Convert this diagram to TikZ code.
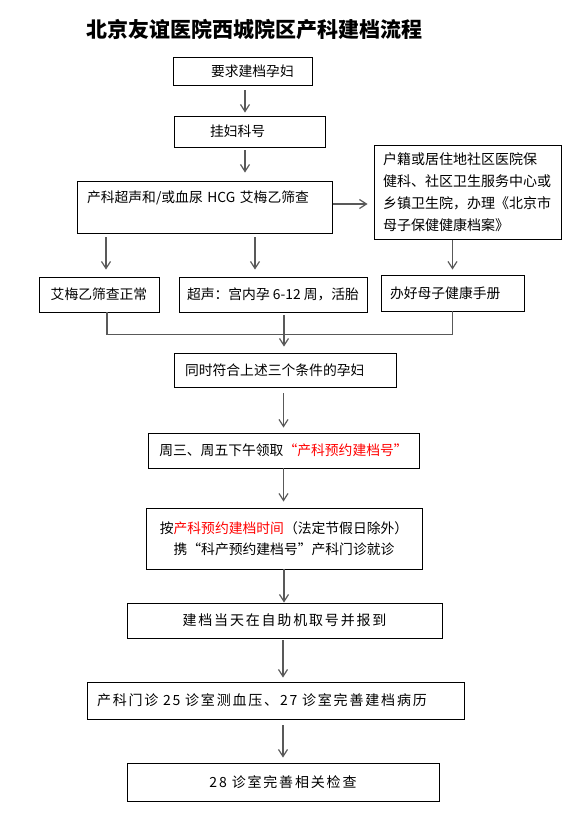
\documentclass[tikz,border=0pt]{standalone}
\usepackage{fontspec}
\setmainfont{Noto Sans CJK SC}
\newfontfamily\widecjk[LetterSpace=13]{Noto Sans CJK SC}
\usetikzlibrary{calc}
\usetikzlibrary{arrows.meta}
\tikzset{>={Straight Barb[width=9pt,length=7pt]}}

\begin{document}
\begin{tikzpicture}[x=1pt,y=-1pt]
  \tikzstyle{fbox} = [draw=black, line width=0.9pt, inner sep=0pt, align=center, font=\fontsize{13.8pt}{20pt}\selectfont]
  \tikzstyle{lbox} = [fbox, align=left]
  \tikzstyle{wbox} = [fbox, font=\widecjk\fontsize{14pt}{20pt}\selectfont]
  \tikzstyle{link} = [draw=black!65, line width=1.2pt]

  \useasboundingbox (0,0) rectangle (584,825);

  \node[anchor=west, font=\bfseries\fontsize{21pt}{24pt}\selectfont] (title) at (83,30) {北京友谊医院西城院区产科建档流程};

  \node[lbox, minimum width=139pt, minimum height=28pt, text width=63pt] (req) at (242.5,71) {要求建档孕妇};
  \node[lbox, minimum width=151pt, minimum height=31pt, text width=79pt] (reg) at (249.5,131.5) {挂妇科号};
  \node[lbox, minimum width=255pt, minimum height=52pt, text width=235pt] (scrn) at (204.5,207) {产科超声和/或血尿 HCG 艾梅乙筛查\\ \mbox{}};
  \node[lbox, font=\fontsize{14pt}{22pt}\selectfont, minimum width=187pt, minimum height=94pt, text width=169pt] (comm) at (467.5,192) {户籍或居住地社区医院保\\健科、社区卫生服务中心或\\乡镇卫生院，办理《北京市\\母子保健健康档案》};

  \node[fbox, minimum width=120pt, minimum height=35pt] (hiv) at (99,294.5) {艾梅乙筛查正常};
  \node[fbox, minimum width=188pt, minimum height=35pt] (us) at (273,294.5) {超声：宫内孕 6-12 周，活胎};
  \node[lbox, minimum width=143pt, minimum height=36pt, text width=125pt] (book) at (452.5,293) {办好母子健康手册};

  \node[lbox, minimum width=222pt, minimum height=34pt, text width=200pt] (cond) at (285,370) {同时符合上述三个条件的孕妇};
  \node[fbox, minimum width=271pt, minimum height=35pt] (take) at (283.5,450.5) {周三、周五下午领取\textcolor{red}{“产科预约建档号”}};
  \node[fbox, font=\fontsize{13.8pt}{21pt}\selectfont, minimum width=276pt, minimum height=61pt] (visit) at (284,538.5) {按\textcolor{red}{产科预约建档时间}（法定节假日除外）\\携“科产预约建档号”产科门诊就诊};
  \node[wbox, minimum width=315pt, minimum height=35pt] (chkin) at (284.5,620.5) {建档当天在自助机取号并报到};
  \node[wbox, align=left, minimum width=377pt, minimum height=37pt, text width=357pt] (clin) at (275.5,700.5) {产科门诊 25 诊室测血压、27 诊室完善建档病历};
  \node[wbox, minimum width=312pt, minimum height=38pt] (exam) at (283,782) {28 诊室完善相关检查};

  % arrows
  \draw[link,->] ($(req.south)+(2.5,5)$) -- ($(req.south |- reg.north)+(2.5,-3)$);
  \draw[link,->] ($(reg.south)+(-4.5,3)$) -- ($(reg.south |- scrn.north)+(-4.5,-8)$);
  \draw[link,->] ($(scrn.east)+(1,-3)$) -- ($(scrn.east -| comm.west)+(-6,-3)$);
  \draw[link,->] ($(book.north |- comm.south)+(0,1)$) -- ($(book.north)+(0,-5)$);
  \draw[link,->] ($(hiv.north |- scrn.south)+(7,4)$) -- ($(hiv.north)+(7,-7)$);
  \draw[link,->] ($(us.north |- scrn.south)+(-18,4)$) -- ($(us.north)+(-18,-7)$);
  \draw[link] ($(hiv.south)+(8,0)$) -- ++(0,22) -| (book.south);
  \draw[link,->] ($(cond.north |- us.south)+(-1,3)$) -- ($(cond.north)+(-1,-6)$);
  \draw[link,->] ($(take.north |- cond.south)+(0,6)$) -- ($(take.north)+(0,-5)$);
  \draw[link,->] (take.south) -- ($(take.south |- visit.north)+(0,-6)$);
  \draw[link,->] (visit.south) -- (visit.south |- chkin.north);
  \draw[link,->] ($(chkin.south)+(-1.5,2)$) -- ($(chkin.south |- clin.north)+(-1.5,-4)$);
  \draw[link,->] ($(exam.north |- clin.south)+(0,6)$) -- ($(exam.north)+(0,-5)$);
\end{tikzpicture}
\end{document}
